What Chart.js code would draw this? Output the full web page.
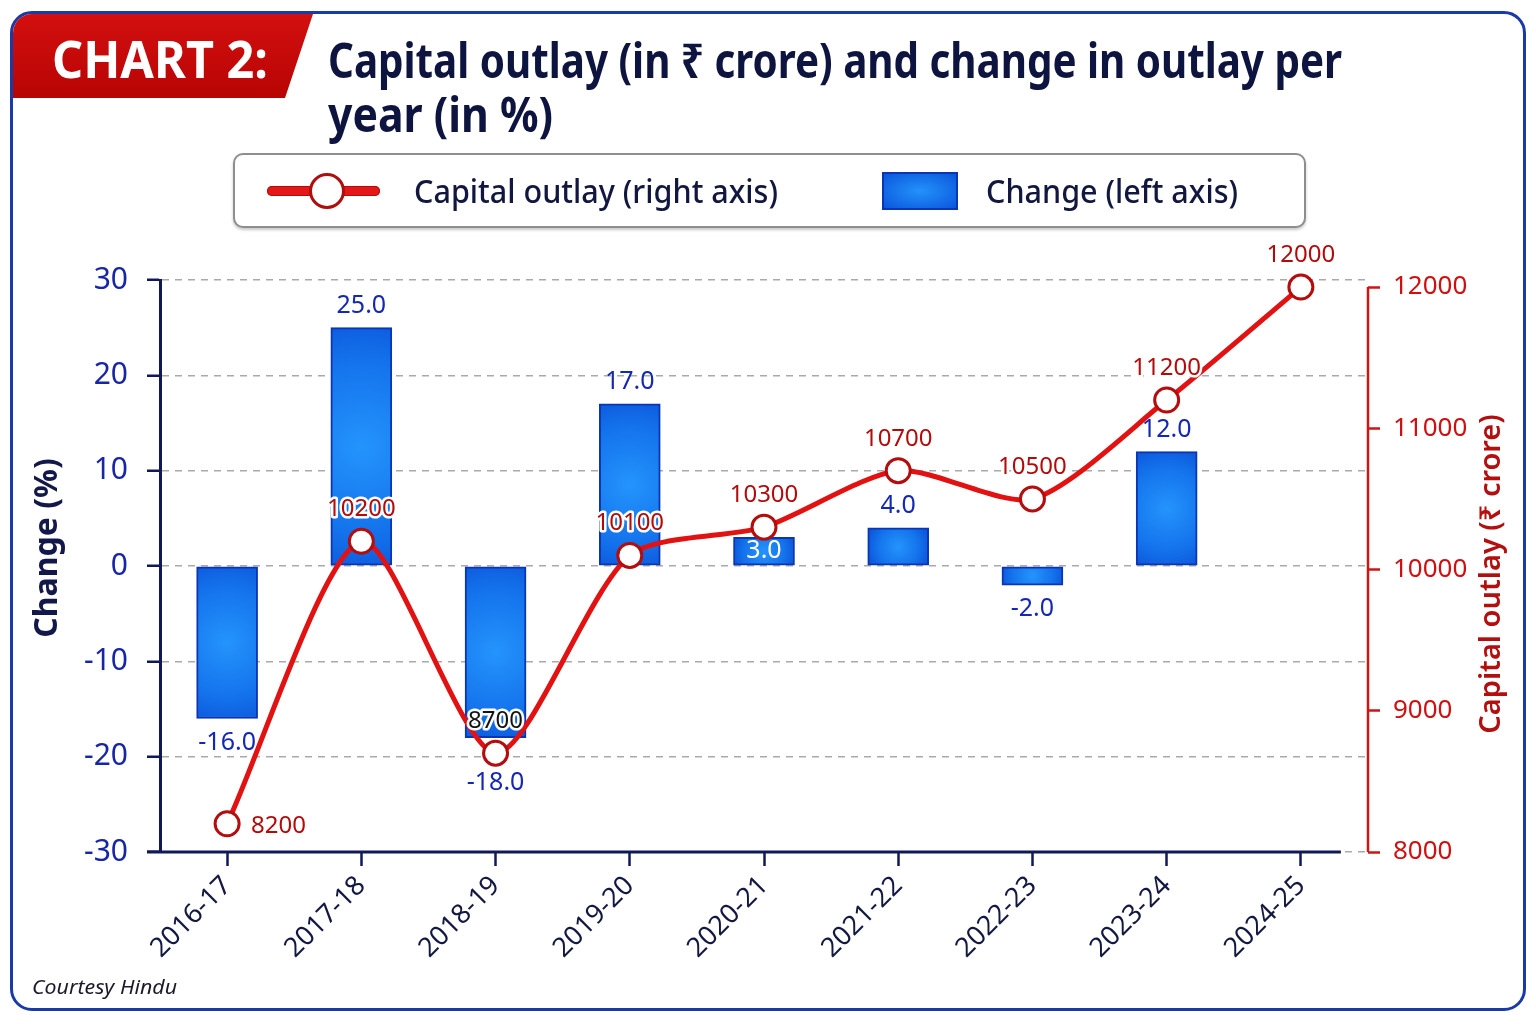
<!DOCTYPE html>
<html>
<head>
<meta charset="utf-8">
<script src="https://cdn.jsdelivr.net/npm/chart.js@4.4.1/dist/chart.umd.min.js"></script>
<style>
  html, body { margin:0; padding:0; background:#ffffff; width:1536px; height:1024px; overflow:hidden; font-family:"Noto Sans", sans-serif; }
  #card { position:absolute; left:10px; top:11px; width:1516px; height:1000px; box-sizing:border-box; border:3px solid #1a3aa8; border-radius:22px; overflow:hidden; background:#fff; z-index:0; }
  #banner { position:absolute; left:0; top:0; width:300px; height:84px; background:linear-gradient(180deg,#d30f0f,#b80404); clip-path:polygon(0 0,100% 0,calc(100% - 28px) 100%,0 100%); }
  #wrap { position:absolute; left:0; top:0; width:1536px; height:1024px; z-index:1; }
  .txt { position:absolute; white-space:nowrap; line-height:1; transform-origin:0 50%; z-index:2; }
  #chartTag { left:52px; top:32px; font-size:52px; font-weight:700; color:#ffffff; }
  #title1 { left:328px; top:36px; font-size:48px; font-weight:700; color:#0e1440; }
  #title2 { left:328px; top:90px; font-size:48px; font-weight:700; color:#0e1440; }
  #legendBox { position:absolute; left:233px; top:153px; width:1073px; height:75px; box-sizing:border-box; border:2px solid #8e8e8e; border-radius:10px; box-shadow:0 2px 3px rgba(0,0,0,0.22); background:#fff; z-index:2; }
  #lgLine { position:absolute; left:267px; top:186px; width:113px; height:10px; border-radius:5px; background:#e41818; box-shadow:inset 0 0 0 1px #b80a0a; z-index:3; }
  #lgDot { position:absolute; left:309px; top:173px; width:36px; height:36px; box-sizing:border-box; border-radius:50%; border:3px solid #b00d0d; background:#fff; z-index:4; }
  #lgBar { position:absolute; left:882px; top:172px; width:76px; height:38px; box-sizing:border-box; border:2px solid #0a35b5; background:radial-gradient(ellipse at center,#2392fb 0%,#0b56dc 100%); z-index:3; }
  #lg1 { left:414px; top:175px; font-size:32px; font-weight:500; color:#12173f; z-index:3; }
  #lg2 { left:986px; top:175px; font-size:32px; font-weight:500; color:#12173f; z-index:3; }
  #footer { left:32px; top:977px; font-size:20px; font-style:italic; color:#1a1a2a; }
</style>
</head>
<body>
<div id="card"><div id="banner"></div></div>
<div class="txt" id="chartTag">CHART 2:</div>
<div class="txt" id="title1">Capital outlay (in ₹ crore) and change in outlay per</div>
<div class="txt" id="title2">year (in %)</div>
<div id="legendBox"></div>
<div id="lgLine"></div>
<div id="lgDot"></div>
<div class="txt" id="lg1">Capital outlay (right axis)</div>
<div id="lgBar"></div>
<div class="txt" id="lg2">Change (left axis)</div>
<div class="txt" id="footer">Courtesy Hindu</div>
<div id="wrap"><canvas id="c"></canvas></div>
<script>
// ---- data ----
const years = ['2016-17','2017-18','2018-19','2019-20','2020-21','2021-22','2022-23','2023-24','2024-25'];
const changePct = [-16.0, 25.0, -18.0, 17.0, 3.0, 4.0, -2.0, 12.0, null];
const capitalOutlay = [8200, 10200, 8700, 10100, 10300, 10700, 10500, 11200, 12000];
const leftTicks = [-30, -20, -10, 0, 10, 20, 30];
const rightTicks = [8000, 9000, 10000, 11000, 12000];
const leftTitle = 'Change (%)';
const rightTitle = 'Capital outlay (₹ crore)';

// fit condensed-looking HTML text to the reference widths
function fitText(id, w) {
  const el = document.getElementById(id);
  el.style.transform = 'none';
  const cw = el.getBoundingClientRect().width;
  if (cw > 0) el.style.transform = 'scaleX(' + (w / cw) + ')';
}
function fitAll() {
  fitText('chartTag', 216);
  fitText('title1', 1014);
  fitText('title2', 225);
  fitText('lg1', 364);
  fitText('lg2', 252);
  fitText('footer', 145);
}
fitAll();
if (document.fonts && document.fonts.ready) document.fonts.ready.then(fitAll);

const FAM = '"Noto Sans", sans-serif';
Chart.defaults.font.family = FAM;

const NAVY = '#10185a';
const RED = '#d01414';

function barFill(c) {
  if (c.type !== 'data') return '#1670ea';
  const ch = c.chart;
  const xs = ch.scales.x, ys = ch.scales.y;
  if (!xs || !ys || !ch.chartArea || c.raw == null) return '#1670ea';
  const x = xs.getPixelForValue(c.dataIndex);
  const y0 = ys.getPixelForValue(0), y1 = ys.getPixelForValue(c.raw);
  const cy = (y0 + y1) / 2;
  const h = Math.abs(y1 - y0);
  const r = Math.max(34, h * 0.6);
  const g = ch.ctx.createRadialGradient(x, cy, 0, x, cy, r);
  g.addColorStop(0, '#2494fc');
  g.addColorStop(0.6, '#1473ec');
  g.addColorStop(1, '#0b52d8');
  return g;
}

const axisExtras = {
  id: 'axisExtras',
  beforeDatasetsDraw(chart) {
    const ctx = chart.ctx, a = chart.chartArea;
    const xs = chart.scales.x, r = chart.scales.y1;
    ctx.save();
    // x axis line
    ctx.strokeStyle = NAVY; ctx.lineWidth = 3;
    ctx.beginPath();
    ctx.moveTo(a.left - 13, a.bottom);
    ctx.lineTo(xs.getPixelForValue(years.length - 1) + 40, a.bottom);
    ctx.stroke();
    // right axis line (from first to last tick)
    ctx.strokeStyle = RED; ctx.lineWidth = 2.5;
    ctx.beginPath();
    ctx.moveTo(a.right, r.getPixelForValue(rightTicks[rightTicks.length - 1]));
    ctx.lineTo(a.right, r.getPixelForValue(rightTicks[0]));
    ctx.stroke();
    ctx.textAlign = 'center';
    ctx.textBaseline = 'middle';
    // left axis title
    ctx.save();
    ctx.translate(48, (a.top + a.bottom) / 2 - 18);
    ctx.rotate(-Math.PI / 2);
    ctx.font = 'bold 32px ' + FAM;
    ctx.fillStyle = '#13184a';
    ctx.fillText(leftTitle, 0, 0);
    ctx.restore();
    // right axis title, reading bottom-to-top
    ctx.translate(1492, (a.top + a.bottom) / 2 + 8);
    ctx.rotate(-Math.PI / 2);
    ctx.font = '600 29px ' + FAM;
    ctx.fillStyle = '#b30f0f';
    ctx.fillText(rightTitle, 0, 0);
    ctx.restore();
  }
};

const valueLabels = {
  id: 'valueLabels',
  afterDatasetsDraw(chart) {
    const ctx = chart.ctx;
    const barMeta = chart.getDatasetMeta(0);
    const lineMeta = chart.getDatasetMeta(1);
    ctx.save();
    ctx.textAlign = 'center';
    ctx.textBaseline = 'middle';
    ctx.lineJoin = 'round';
    // bar labels
    ctx.font = '25px ' + FAM;
    barMeta.data.forEach((bar, i) => {
      const v = changePct[i];
      if (v == null) return;
      const pt = lineMeta.data[i];
      let y, color = '#1428b4';
      if (v >= 0) {
        y = bar.y - 22;
        if (Math.abs(y - pt.y) < 22) { y = (bar.y + bar.base) / 2; color = '#ffffff'; }
      } else {
        y = bar.y + 24;
        const pTop = pt.y - 15, pBot = pt.y + 15;
        if (pBot > y - 12 && pTop < y + 12) y = pBot + 15;
      }
      ctx.fillStyle = color;
      ctx.fillText(v.toFixed(1), bar.x, y);
    });
    // line labels
    ctx.font = '24px ' + FAM;
    lineMeta.data.forEach((pt, i) => {
      const txt = String(capitalOutlay[i]);
      let x = pt.x, y = pt.y - 32;
      ctx.textAlign = 'center';
      if (i === 0) { ctx.textAlign = 'left'; x = pt.x + 24; y = pt.y + 2; }
      ctx.strokeStyle = '#ffffff'; ctx.lineWidth = 5;
      ctx.strokeText(txt, x, y);
      ctx.fillStyle = (i === 2) ? '#141414' : '#b50a0a';
      ctx.fillText(txt, x, y);
    });
    ctx.restore();
  }
};

new Chart(document.getElementById('c'), {
  data: {
    labels: years,
    datasets: [
      {
        type: 'bar',
        label: 'Change (left axis)',
        data: changePct,
        yAxisID: 'y',
        barThickness: 61,
        backgroundColor: barFill,
        borderColor: '#0a35b5',
        borderWidth: 2,
        borderSkipped: false,
        order: 1
      },
      {
        type: 'line',
        label: 'Capital outlay (right axis)',
        data: capitalOutlay,
        yAxisID: 'y1',
        borderColor: '#e31212',
        borderWidth: 5,
        tension: 0.25,
        pointRadius: 12,
        pointBorderWidth: 3,
        pointBorderColor: '#b30d0d',
        pointBackgroundColor: '#ffffff',
        clip: false,
        order: 0
      }
    ]
  },
  options: {
    responsive: true,
    maintainAspectRatio: false,
    animation: false,
    layout: { padding: { top: 280, left: 0, right: 0, bottom: 0 } },
    plugins: { legend: { display: false }, tooltip: { enabled: false } },
    scales: {
      x: {
        type: 'category',
        offset: true,
        grid: { display: true, drawOnChartArea: false, drawTicks: true, tickLength: 14, tickColor: NAVY, tickWidth: 2.5, offset: false },
        border: { display: false },
        ticks: { color: '#121842', font: { size: 27 }, maxRotation: 45, minRotation: 45, padding: 4, autoSkip: false },
        afterFit: s => { s.height = 172; }
      },
      y: {
        position: 'left',
        min: -30, max: 30,
        afterBuildTicks: s => { s.ticks = leftTicks.map(v => ({ value: v })); },
        grid: { color: '#aaaaaa', lineWidth: 1.5, tickColor: NAVY, tickWidth: 2.5, tickLength: 13 },
        border: { display: true, color: NAVY, width: 3, dash: [7, 6] },
        ticks: { color: '#1626a6', font: { size: 30 }, padding: 19, callback: v => String(v) },
        title: { display: false },
        afterFit: s => { s.width = 160; }
      },
      y1: {
        position: 'right',
        min: 8000, max: 12050,
        afterBuildTicks: s => { s.ticks = rightTicks.map(v => ({ value: v })); },
        grid: { drawOnChartArea: false, drawTicks: true, tickColor: RED, tickWidth: 2.5, tickLength: 12 },
        border: { display: false },
        ticks: { color: '#d01010', font: { size: 26 }, padding: 13, callback: v => String(v) },
        title: { display: false },
        afterFit: s => { s.width = 168; }
      }
    }
  },
  plugins: [axisExtras, valueLabels]
});
</script>
</body>
</html>
